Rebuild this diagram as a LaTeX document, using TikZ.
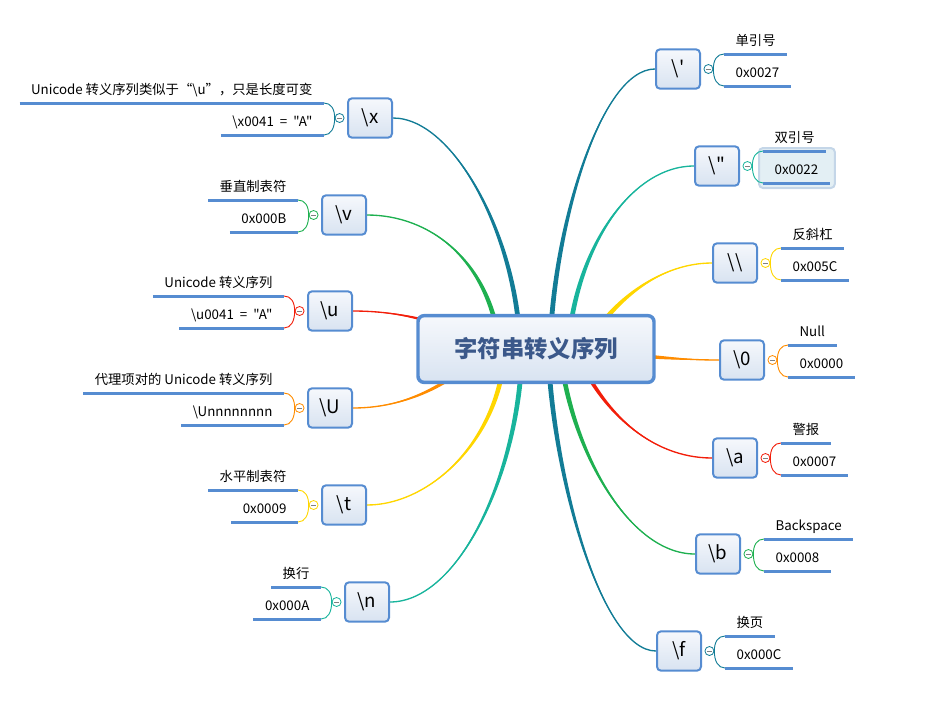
\documentclass[tikz,border=0pt]{standalone}
\usepackage{fontspec}
\newfontfamily\cjk{Noto Sans CJK SC}
\usetikzlibrary{positioning,calc}

\definecolor{lineblue}{RGB}{86,140,209}
\definecolor{boxtop}{RGB}{246,248,252}
\definecolor{boxbot}{RGB}{216,227,241}
\definecolor{roottext}{RGB}{59,88,138}
\definecolor{tealblue}{RGB}{18,124,150}
\definecolor{turq}{RGB}{24,180,156}
\definecolor{mmgreen}{RGB}{30,176,80}
\definecolor{mmred}{RGB}{242,30,10}
\definecolor{mmorange}{RGB}{255,140,0}
\definecolor{mmyellow}{RGB}{255,214,0}
\definecolor{hlfill}{RGB}{227,239,244}
\definecolor{hlborder}{RGB}{196,214,232}

\pgfdeclarelayer{bg}
\pgfsetlayers{bg,main}

% tapered branch: colour, target, c1, c2, start shift, half width
\newcommand{\branch}[6]{%
  \fill[#1] ($(root.center)+#5+#6$) .. controls ($#4+#6$) and #3 .. (#2)
    .. controls #3 and ($#4-#6$) .. ($(root.center)+#5-#6$) -- cycle;
  \draw[#1, line width=1pt] ($(root.center)+#5$) .. controls #4 and #3 .. (#2);}

\begin{document}
\begin{tikzpicture}[x=0.75pt, y=-0.75pt,
    root/.style={draw=lineblue, line width=2.6pt, rounded corners=4.5pt,
        top color=boxtop, bottom color=boxbot, minimum width=177pt, minimum height=50pt,
        font=\cjk\fontsize{17.5}{20}\selectfont\bfseries, text=roottext},
    topic/.style={draw=lineblue, line width=1.5pt, rounded corners=3pt,
        top color=boxtop, bottom color=boxbot, minimum width=33pt, minimum height=29.5pt,
        font=\cjk\fontsize{14}{16}\selectfont},
    leaf/.style={font=\cjk\fontsize{10}{12}\selectfont, inner xsep=8.5pt, inner ysep=3pt,
        text height=7.5pt, text depth=3pt},
    knob/.style={circle, draw=#1, fill=white, line width=0.6pt, minimum size=6.75pt, inner sep=0pt,
        path picture={\draw[gray, line width=0.5pt] ([xshift=-2pt]path picture bounding box.center)
            -- ([xshift=2pt]path picture bounding box.center);}},
    twig/.style={draw=#1, line width=0.7pt},
    leafline/.style={draw=lineblue, line width=2.25pt}
]
\useasboundingbox (0,0) rectangle (936,715);

% central topic
\node[root] (root) at (536,349) {字符串转义序列};

% left topics
\node[topic] (esx) at (370,118) {\textbackslash x};
\node[topic] (esv) at (344,215) {\textbackslash v};
\node[topic] (esu) at (330,311) {\textbackslash u};
\node[topic] (esU) at (330,408) {\textbackslash U};
\node[topic] (est) at (344,505) {\textbackslash t};
\node[topic] (esn) at (367,602) {\textbackslash n};

% right topics
\node[topic] (esq) at (678,69) {\textbackslash '};
\node[topic] (esdq) at (717,166) {\textbackslash "};
\node[topic] (esbs) at (735,263) {\textbackslash\textbackslash};
\node[topic] (es0) at (742,360) {\textbackslash 0};
\node[topic] (esa) at (735,458) {\textbackslash a};
\node[topic] (esb) at (718,554) {\textbackslash b};
\node[topic] (esf) at (679,651) {\textbackslash f};

% collapse knobs
\node[knob=tealblue, left=1.9pt of esx] (esxk) {};
\node[knob=mmgreen, left=1.9pt of esv] (esvk) {};
\node[knob=mmred, left=1.9pt of esu] (esuk) {};
\node[knob=mmorange, left=1.9pt of esU] (esUk) {};
\node[knob=mmyellow, left=1.9pt of est] (estk) {};
\node[knob=turq, left=1.9pt of esn] (esnk) {};
\node[knob=tealblue, right=1.9pt of esq] (esqk) {};
\node[knob=turq, right=1.9pt of esdq] (esdqk) {};
\node[knob=mmyellow, right=1.9pt of esbs] (esbsk) {};
\node[knob=mmorange, right=1.9pt of es0] (es0k) {};
\node[knob=mmred, right=1.9pt of esa] (esak) {};
\node[knob=mmgreen, right=1.9pt of esb] (esbk) {};
\node[knob=tealblue, right=1.9pt of esf] (esfk) {};

% left leaves
\node[leaf, anchor=south east] (esx1) at ($(esx.west)+(-23,-15)$) {Unicode 转义序列类似于“\textbackslash u”，只是长度可变};
\node[leaf, anchor=south east] (esx2) at ($(esx.west)+(-23,17)$) {\textbackslash x0041~ =~ "A"};
\node[leaf, anchor=south east] (esv1) at ($(esv.west)+(-23,-15)$) {垂直制表符};
\node[leaf, anchor=south east] (esv2) at ($(esv.west)+(-23,17)$) {0x000B};
\node[leaf, anchor=south east] (esu1) at ($(esu.west)+(-23,-15)$) {Unicode 转义序列};
\node[leaf, anchor=south east] (esu2) at ($(esu.west)+(-23,17)$) {\textbackslash u0041~ =~ "A"};
\node[leaf, anchor=south east] (esU1) at ($(esU.west)+(-23,-15)$) {代理项对的 Unicode 转义序列};
\node[leaf, anchor=south east] (esU2) at ($(esU.west)+(-23,17)$) {\textbackslash Unnnnnnnn};
\node[leaf, anchor=south east] (est1) at ($(est.west)+(-23,-15)$) {水平制表符};
\node[leaf, anchor=south east] (est2) at ($(est.west)+(-23,17)$) {0x0009};
\node[leaf, anchor=south east] (esn1) at ($(esn.west)+(-23,-15)$) {换行};
\node[leaf, anchor=south east] (esn2) at ($(esn.west)+(-23,17)$) {0x000A};

% right leaves
\node[leaf, anchor=south west] (esq1) at ($(esq.east)+(23,-15)$) {单引号};
\node[leaf, anchor=south west] (esq2) at ($(esq.east)+(23,17)$) {0x0027};
\node[leaf, anchor=south west] (esdq1) at ($(esdq.east)+(23,-15)$) {双引号};
\node[leaf, anchor=south west] (esdq2) at ($(esdq.east)+(23,17)$) {0x0022};
\node[leaf, anchor=south west] (esbs1) at ($(esbs.east)+(23,-15)$) {反斜杠};
\node[leaf, anchor=south west] (esbs2) at ($(esbs.east)+(23,17)$) {0x005C};
\node[leaf, anchor=south west] (es01) at ($(es0.east)+(23,-15)$) {Null};
\node[leaf, anchor=south west] (es02) at ($(es0.east)+(23,17)$) {0x0000};
\node[leaf, anchor=south west] (esa1) at ($(esa.east)+(23,-15)$) {警报};
\node[leaf, anchor=south west] (esa2) at ($(esa.east)+(23,17)$) {0x0007};
\node[leaf, anchor=south west] (esb1) at ($(esb.east)+(23,-15)$) {Backspace};
\node[leaf, anchor=south west] (esb2) at ($(esb.east)+(23,17)$) {0x0008};
\node[leaf, anchor=south west] (esf1) at ($(esf.east)+(23,-15)$) {换页};
\node[leaf, anchor=south west] (esf2) at ($(esf.east)+(23,17)$) {0x000C};

% branches
\begin{pgfonlayer}{bg}
\branch{tealblue}{esx.east}{(455,118)}{(518,240)}{(-16,0)}{(2.5,0)}
\branch{mmgreen}{esv.east}{(430,215)}{(490,260)}{(-36,0)}{(2.5,0)}
\branch{mmred}{esu.east}{(400,311)}{(440,322)}{(-60,-10)}{(0,2.5)}
\branch{mmorange}{esU.east}{(400,408)}{(440,390)}{(-60,10)}{(0,2.5)}
\branch{mmyellow}{est.east}{(430,505)}{(500,440)}{(-31,0)}{(2.5,0)}
\branch{turq}{esn.east}{(460,602)}{(520,470)}{(-14,0)}{(2.5,0)}
\branch{tealblue}{esq.west}{(600,69)}{(553,230)}{(14,0)}{(2.5,0)}
\branch{turq}{esdq.west}{(630,166)}{(575,250)}{(32,0)}{(2.5,0)}
\branch{mmyellow}{esbs.west}{(660,263)}{(615,300)}{(54,-9)}{(1.8,1.8)}
\branch{mmorange}{es0.west}{(690,360)}{(660,358)}{(64,3)}{(0,2.5)}
\branch{mmred}{esa.west}{(650,458)}{(600,410)}{(39,0)}{(2.5,0)}
\branch{mmgreen}{esb.west}{(625,554)}{(568,440)}{(24,0)}{(2.5,0)}
\branch{tealblue}{esf.west}{(600,651)}{(552,470)}{(12,0)}{(2.5,0)}
% selected leaf
\draw[fill=hlfill, draw=hlborder, line width=1.5pt, rounded corners=3pt]
    ($(esdq1.south west)+(-4,-3)$) rectangle ($(esdq2.south east)+(5,5)$);
\end{pgfonlayer}

% brackets
\foreach \nm/\col in {esx/tealblue, esv/mmgreen, esu/mmred, esU/mmorange, est/mmyellow, esn/turq} {
    \draw[twig=\col] (\nm k.west) .. controls +(0,-9) and +(7,0) .. (\nm1.south east);
    \draw[twig=\col] (\nm k.west) .. controls +(0,10) and +(7,0) .. (\nm2.south east);
}
\foreach \nm/\col in {esq/tealblue, esdq/turq, esbs/mmyellow, es0/mmorange, esa/mmred, esb/mmgreen, esf/tealblue} {
    \draw[twig=\col] (\nm k.east) .. controls +(0,-9) and +(-7,0) .. (\nm1.south west);
    \draw[twig=\col] (\nm k.east) .. controls +(0,10) and +(-7,0) .. (\nm2.south west);
}

% underlines
\foreach \nm in {esx,esv,esu,esU,est,esn,esq,esdq,esbs,es0,esa,esb,esf} {
    \draw[leafline] (\nm1.south west) -- (\nm1.south east);
    \draw[leafline] (\nm2.south west) -- (\nm2.south east);
}
\end{tikzpicture}
\end{document}
